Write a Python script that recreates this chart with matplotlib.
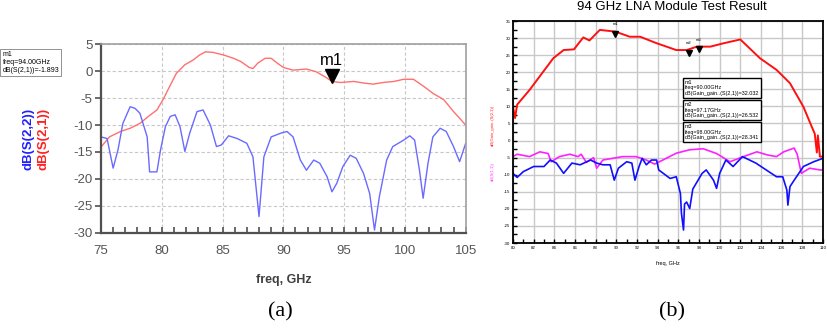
import matplotlib
matplotlib.use('Agg')
import matplotlib.pyplot as plt
import matplotlib.ticker as ticker

plt.rcParams['font.family'] = ['Liberation Sans', 'DejaVu Sans']
plt.rcParams['axes.unicode_minus'] = False

# ---- panel (a): simulated S-parameters
freq_s21 = [75, 75.7, 76.6, 77.4, 78.2, 78.9, 79.6, 80.1, 80.7, 81.2, 81.9, 82.6, 83.1, 83.6,
            84.2, 85.1, 85.9, 86.5, 87.2, 87.5, 87.9, 88.5, 89.0, 89.5, 90.0, 90.8, 91.9, 92.7,
            93.4, 94.0, 94.7, 95.8, 96.6, 97.4, 98.2, 99.1, 99.9, 100.7, 101.6, 102.3, 103.2,
            104.0, 105]
s21 = [-14.1, -12.2, -11.2, -10.6, -9.7, -8.4, -7.2, -5.3, -2.6, -0.4, 1.2, 2.1, 3.0, 3.6,
       3.5, 3.0, 2.4, 1.8, 0.7, 0.5, 1.5, 2.4, 2.4, 1.5, 0.7, 0.2, 0.4, -0.1,
       -1.0, -1.893, -2.1, -1.9, -2.2, -2.4, -2.1, -1.9, -1.5, -1.5, -2.9, -4.1, -5.3,
       -7.5, -10.0]

freq_s22 = [75, 75.5, 76.0, 76.4, 76.8, 77.4, 77.8, 78.2, 78.8, 79.0, 79.6, 79.9, 80.3, 80.7,
            81.1, 81.5, 81.9, 82.3, 82.9, 83.4, 84.0, 84.5, 84.9, 85.5, 86.2, 87.0, 87.5, 88.0,
            88.4, 89.0, 89.8, 90.3, 90.8, 91.4, 91.9, 92.5, 93.0, 93.6, 94.0, 94.4, 94.9, 95.5,
            96.0, 96.6, 97.1, 97.5, 97.9, 98.5, 99.0, 99.9, 100.4, 100.8, 101.2, 101.5, 101.9,
            102.3, 102.9, 103.4, 104.0, 104.5, 105]
s22 = [-12.2, -12.5, -18.0, -14.6, -9.7, -6.6, -6.9, -7.8, -12.2, -18.7, -18.7, -14.6, -10.3, -8.4,
       -8.1, -10.3, -14.9, -11.5, -7.5, -7.2, -10.0, -14.0, -13.7, -12.0, -12.5, -13.4, -15.9, -27.0,
       -15.9, -12.2, -11.5, -11.2, -12.2, -16.5, -18.4, -16.5, -17.1, -19.6, -22.4, -20.8, -17.7, -15.6,
       -16.2, -19.0, -22.7, -29.5, -23.3, -16.5, -14.0, -12.8, -12.0, -12.8, -18.4, -23.6, -17.1,
       -12.2, -10.6, -11.2, -14.0, -16.8, -13.4]

# ---- panel (b): measured module
freq_gain = [80, 80.2, 80.4, 81.6, 83.9, 84.9, 85.9, 86.8, 87.4, 88.4, 89.9, 91.3, 92.3, 93.9,
             95.8, 96.8, 97.8, 99.1, 100.4, 102.0, 103.9, 105.5, 106.8, 108.1, 108.9, 109.2,
             109.4, 109.5, 109.7, 110]
gain = [9.9, 6.6, 10.5, 14.8, 24.1, 26.5, 26.7, 30.2, 29.3, 32.4, 31.9, 30.4, 30.4, 28.5,
        26.5, 26.5, 27.5, 27.5, 28.5, 29.6, 24.1, 20.7, 16.8, 9.9, 4.1, 2.0, -3.5, 1.5, -4.7, -4.7]

freq_s11 = [80, 80.4, 81.6, 82.6, 83.4, 83.7, 84.5, 85.5, 86.3, 86.6, 87.1, 87.8, 88.1, 88.7,
            90.6, 91.9, 92.9, 93.7, 94.5, 95.8, 97.1, 98.4, 99.7, 101.0, 102.3, 103.6, 104.6,
            105.5, 106.2, 107.2, 107.5, 107.9, 108.7, 109.7, 110]
s11 = [-4.7, -4.0, -4.7, -3.3, -3.8, -6.2, -4.7, -4.0, -4.7, -4.0, -6.4, -5.0, -8.1, -5.7,
       -4.7, -4.7, -5.7, -6.9, -5.7, -3.7, -2.7, -2.4, -3.8, -6.2, -4.7, -3.3, -4.2,
       -4.7, -3.3, -2.2, -4.0, -9.6, -8.1, -8.6, -8.6]

freq_s22b = [80, 80.4, 81.0, 82.0, 83.0, 83.6, 84.2, 84.9, 85.7, 86.5, 87.5, 88.1, 88.7, 89.4,
             89.8, 90.2, 91.0, 91.5, 91.8, 92.2, 92.5, 92.9, 93.4, 93.9, 94.1, 95.2, 95.8, 96.2,
             96.3, 96.5, 96.6, 96.8, 97.1, 97.4, 98.3, 98.7, 99.4, 99.7, 100.0, 100.6, 101.3,
             102.2, 103.5, 104.5, 105.5, 106.1, 106.5, 106.6, 106.8, 107.1, 108.1, 109.1, 110]
s22b = [-9.6, -10.8, -9.1, -7.6, -7.6, -5.7, -6.6, -9.6, -6.6, -7.1, -5.7, -6.6, -7.1, -7.1,
        -11.6, -8.1, -6.2, -6.6, -11.6, -7.6, -5.2, -7.1, -5.7, -5.7, -8.6, -11.1, -10.6, -15.5,
        -21.3, -26.2, -18.6, -18.0, -19.9, -14.2, -9.6, -8.6, -11.6, -14.0, -9.6, -5.7, -7.6,
        -4.7, -6.6, -8.6, -10.6, -10.6, -14.5, -18.9, -13.5, -12.1, -7.6, -6.2, -5.2]

markers_b = [('m1', 89.9), ('m2', 97.0), ('m3', 98.0)]
marker_texts_b = ['m1\nfreq=90.00GHz\ndB(Gain_gain..(S(2,1))=32.032',
                  'm2\nfreq=97.17GHz\ndB(Gain_gain..(S(2,1))=26.532',
                  'm3\nfreq=98.00GHz\ndB(Gain_gain..(S(2,1))=28.341']

fig = plt.figure(figsize=(8.27, 3.3), dpi=100)

# ================= (a)
ax = fig.add_axes([0.1221, 0.2948, 0.441, 0.571])
ax.plot(freq_s21, s21, color='#ff7070', lw=1.0)
ax.plot(freq_s22, s22, color='#6a6aff', lw=1.0)
ax.set_xlim(75, 105)
ax.set_ylim(-30, 5)
ax.set_xticks(range(75, 106, 5))
ax.set_yticks(range(-30, 6, 5))
ax.xaxis.set_minor_locator(ticker.MultipleLocator(1))
ax.grid(True, which='major', ls=(0, (3, 2)), color='#c8c8c8', lw=0.8)
ax.tick_params(axis='x', which='both', direction='in', length=4, width=1.2, color='#505050',
               labelsize=9.5, labelcolor='#555555', pad=9)
ax.tick_params(axis='y', which='major', direction='out', length=4, width=1.2, color='#505050',
               labelsize=9.5, labelcolor='#555555', pad=2)
for s in ['left', 'bottom']:
    ax.spines[s].set_color('#505050')
    ax.spines[s].set_linewidth(1.6)
for s in ['top', 'right']:
    ax.spines[s].set_color('#a0a0a0')
    ax.spines[s].set_linewidth(1.2)
ax.set_xlabel('freq, GHz', fontsize=9, fontweight='bold', color='#404040', labelpad=12)

# rotated coloured y labels
fig.text(0.034, 0.579, 'dB(S(2,2))', rotation=90, color='#2020ff', fontsize=9.5,
         fontweight='bold', ha='center', va='center')
fig.text(0.053, 0.579, 'dB(S(2,1))', rotation=90, color='#ff2020', fontsize=9.5,
         fontweight='bold', ha='center', va='center')

# marker m1
m1_f = 94.0
m1_v = s21[freq_s21.index(m1_f)]
ax.plot([m1_f], [m1_v + 1.0], marker='v', color='black', markersize=10, clip_on=False)
ax.annotate('m1', xy=(m1_f, m1_v), xytext=(0, 15), textcoords='offset points',
            ha='center', va='center', fontsize=12)
fig.text(0.003, 0.81, 'm1\nfreq=94.00GHz\ndB(S(2,1))=-1.893', fontsize=5,
         va='center', ha='left', linespacing=1.15,
         bbox=dict(boxstyle='square,pad=0.3', fc='white', ec='#808080', lw=0.6))

# ================= (b)
bx = fig.add_axes([0.6203, 0.2636, 0.3749, 0.6727])
bx.plot(freq_gain, gain, color='#ff1010', lw=1.4)
bx.plot(freq_s11, s11, color='#ff20ff', lw=1.2)
bx.plot(freq_s22b, s22b, color='#1010ff', lw=1.2)
bx.set_xlim(80, 110)
bx.set_ylim(-30, 35)
bx.set_xticks(range(80, 111, 2))
bx.set_yticks(range(-30, 36, 5))
bx.yaxis.set_minor_locator(ticker.MultipleLocator(2.5))
bx.xaxis.set_minor_locator(ticker.MultipleLocator(1))
bx.grid(True, which='major', color='#c8c8c8', lw=1.0)
bx.tick_params(which='both', direction='in', length=3, width=1.0, labelsize=3.2, pad=2)
for s in bx.spines.values():
    s.set_linewidth(1.3)
bx.set_xlabel('freq, GHz', fontsize=4, labelpad=8)
fig.text(0.813, 0.998, '94 GHz LNA Module Test Result', fontsize=9.5, ha='center', va='top')
fig.text(0.596, 0.62, 'dB(Gain_gain..(S(2,1))', rotation=90, color='#ff2020',
         fontsize=3, ha='center', va='center')
fig.text(0.596, 0.48, 'dB(S(1,1))', rotation=90, color='#ff40ff',
         fontsize=3, ha='center', va='center')

for name, f in markers_b:
    # find the nearest sampled gain value
    i = min(range(len(freq_gain)), key=lambda k: abs(freq_gain[k] - f))
    bx.plot([f], [gain[i] - 0.8], marker='v', color='black', markersize=5)
    bx.text(f, gain[i] + 1.5, name, fontsize=3, ha='center', va='bottom')

for k, txt in enumerate(marker_texts_b):
    bx.text(96.6, 17.8 - k * 6.5, txt, fontsize=3.9, va='top', ha='left', linespacing=1.15,
            bbox=dict(boxstyle='square,pad=0.35', fc='white', ec='black', lw=1.0))

fig.text(0.339, 0.055, '(a)', fontsize=16, family='Liberation Serif', ha='center', va='center')
fig.text(0.813, 0.055, '(b)', fontsize=16, family='Liberation Serif', ha='center', va='center')

fig.savefig('out.png', dpi=100)
